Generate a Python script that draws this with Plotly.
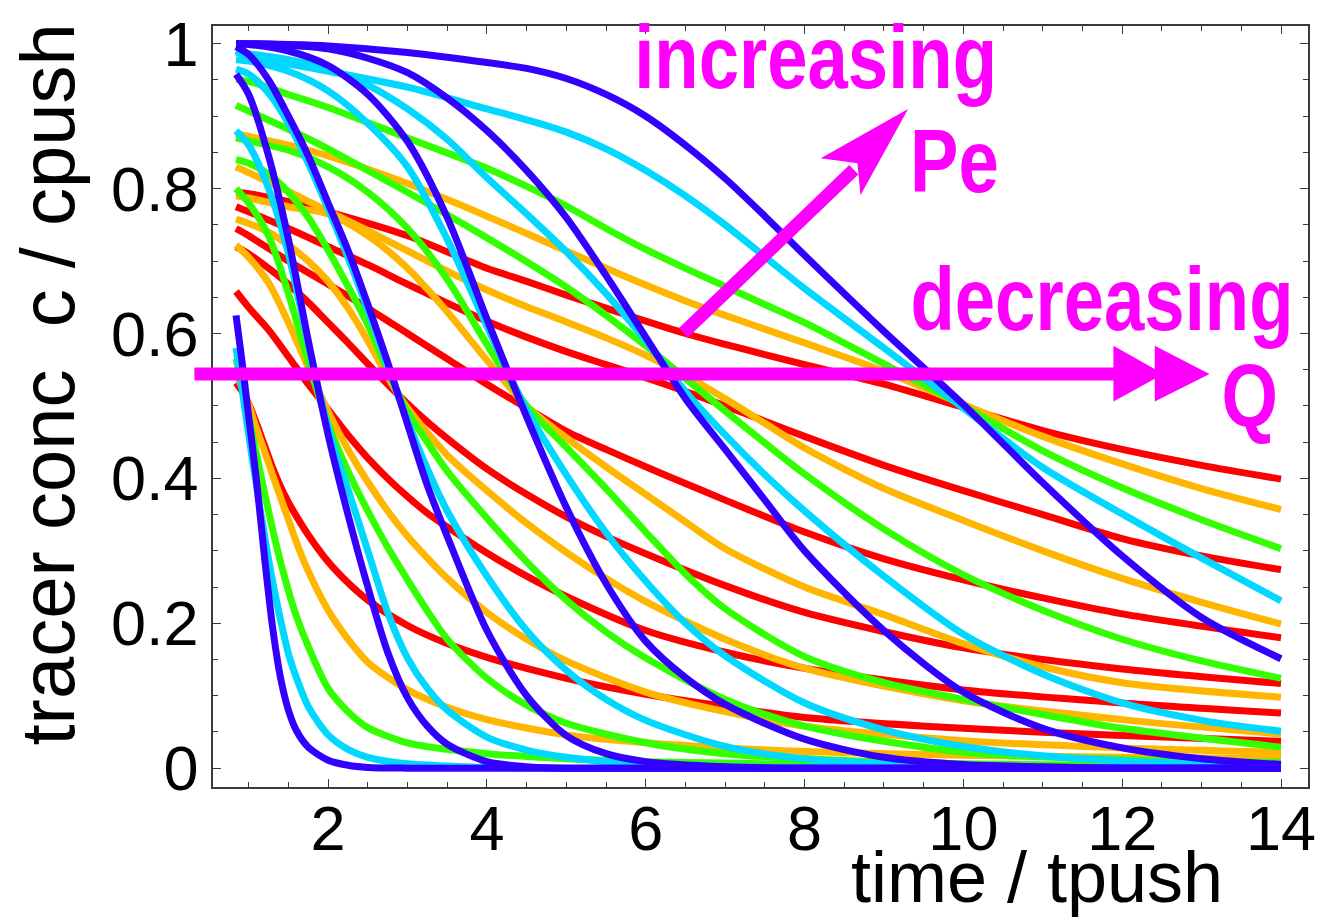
import plotly.graph_objects as go

# ---------------- data ----------------
# time grids per group (group 1 = largest Q ... group 6 = smallest Q)
G1_T = [0.84, 0.9, 1.0, 1.1, 1.2, 1.3, 1.4, 1.5, 1.6, 1.75, 2.0, 2.25, 2.5, 3.0, 3.5, 4.0, 5.0, 6.0, 7.0, 8.0, 10.0, 12.0, 14.0]
G2_T = [0.84, 1.0, 1.25, 1.5, 1.75, 2.0, 2.25, 2.5, 2.75, 3.0, 3.25, 3.5, 4.0, 4.5, 5.0, 6.0, 7.0, 8.0, 10.0, 12.0, 14.0]
G3_T = [0.84, 1.0, 1.25, 1.5, 1.75, 2.0, 2.25, 2.5, 2.75, 3.0, 3.25, 3.5, 4.0, 4.5, 5.0, 5.5, 6.0, 7.0, 8.0, 10.0, 12.0, 14.0]
G4_T = [0.84, 1.0, 1.5, 2.0, 2.5, 3.0, 3.5, 4.0, 4.5, 5.0, 5.5, 6.0, 6.5, 7.0, 8.0, 9.0, 10.0, 11.0, 12.0, 14.0]
G5_T = [0.84, 1.0, 1.5, 2.0, 2.5, 3.0, 3.5, 4.0, 4.5, 5.0, 5.5, 6.0, 6.5, 7.0, 7.5, 8.0, 9.0, 10.0, 11.0, 12.0, 13.0, 14.0]
G6_T = [0.84, 1.0, 1.5, 2.0, 3.0, 4.0, 4.5, 5.0, 5.5, 6.0, 6.5, 7.0, 7.5, 8.0, 9.0, 10.0, 11.0, 12.0, 13.0, 14.0]

G1_BLUE   = [0.625, 0.575, 0.485, 0.395, 0.29, 0.195, 0.125, 0.08, 0.052, 0.029, 0.011, 0.004, 0.001, 0.0, 0.0, 0.0, 0.0, 0.0, 0.0, 0.0, 0.0, 0.0, 0.0]
G1_CYAN   = [0.58, 0.535, 0.46, 0.388, 0.32, 0.258, 0.205, 0.158, 0.125, 0.085, 0.046, 0.026, 0.015, 0.006, 0.003, 0.001, 0.0, 0.0, 0.0, 0.0, 0.0, 0.0, 0.0]
G1_GREEN  = [0.565, 0.535, 0.485, 0.432, 0.38, 0.33, 0.285, 0.245, 0.21, 0.168, 0.11, 0.078, 0.056, 0.035, 0.026, 0.02, 0.013, 0.009, 0.007, 0.005, 0.003, 0.002, 0.001]
G1_ORANGE = [0.545, 0.53, 0.502, 0.468, 0.437, 0.405, 0.374, 0.343, 0.312, 0.272, 0.218, 0.178, 0.146, 0.108, 0.084, 0.067, 0.046, 0.035, 0.028, 0.023, 0.018, 0.015, 0.013]
G1_RED    = [0.532, 0.523, 0.503, 0.475, 0.445, 0.415, 0.389, 0.367, 0.348, 0.322, 0.285, 0.256, 0.232, 0.197, 0.172, 0.153, 0.124, 0.102, 0.085, 0.07, 0.055, 0.045, 0.037]

G2_BLUE   = [0.958, 0.93, 0.845, 0.73, 0.59, 0.46, 0.35, 0.25, 0.16, 0.097, 0.058, 0.033, 0.009, 0.002, 0.0, 0.0, 0.0, 0.0, 0.0, 0.0, 0.0]
G2_CYAN   = [0.88, 0.86, 0.80, 0.71, 0.585, 0.47, 0.385, 0.30, 0.215, 0.152, 0.11, 0.08, 0.043, 0.025, 0.015, 0.005, 0.002, 0.001, 0.0, 0.0, 0.0]
G2_GREEN  = [0.80, 0.78, 0.735, 0.655, 0.56, 0.475, 0.41, 0.355, 0.305, 0.26, 0.217, 0.178, 0.124, 0.087, 0.062, 0.035, 0.02, 0.013, 0.006, 0.004, 0.003]
G2_ORANGE = [0.722, 0.705, 0.67, 0.615, 0.553, 0.492, 0.44, 0.395, 0.355, 0.32, 0.29, 0.262, 0.215, 0.178, 0.148, 0.105, 0.078, 0.058, 0.038, 0.028, 0.022]
G2_RED    = [0.658, 0.636, 0.605, 0.568, 0.53, 0.495, 0.46, 0.428, 0.4, 0.375, 0.352, 0.333, 0.297, 0.265, 0.237, 0.19, 0.16, 0.138, 0.108, 0.09, 0.076]

G3_BLUE   = [0.996, 0.985, 0.95, 0.9, 0.845, 0.78, 0.715, 0.64, 0.56, 0.475, 0.39, 0.32, 0.19, 0.1, 0.045, 0.02, 0.009, 0.002, 0.0, 0.0, 0.0, 0.0]
G3_CYAN   = [0.965, 0.958, 0.932, 0.89, 0.835, 0.772, 0.705, 0.632, 0.555, 0.48, 0.413, 0.355, 0.265, 0.19, 0.135, 0.095, 0.066, 0.03, 0.013, 0.002, 0.0, 0.0]
G3_GREEN  = [0.84, 0.835, 0.82, 0.795, 0.76, 0.715, 0.665, 0.612, 0.548, 0.492, 0.45, 0.41, 0.345, 0.285, 0.232, 0.188, 0.152, 0.095, 0.058, 0.022, 0.012, 0.008]
G3_ORANGE = [0.758, 0.752, 0.74, 0.722, 0.70, 0.672, 0.635, 0.59, 0.54, 0.497, 0.463, 0.432, 0.383, 0.338, 0.298, 0.262, 0.23, 0.178, 0.138, 0.093, 0.067, 0.047]
G3_RED    = [0.72, 0.71, 0.69, 0.668, 0.643, 0.615, 0.587, 0.558, 0.53, 0.503, 0.478, 0.455, 0.413, 0.378, 0.347, 0.32, 0.296, 0.252, 0.215, 0.166, 0.137, 0.117]

G4_BLUE   = [1.0, 0.999, 0.99, 0.97, 0.93, 0.865, 0.76, 0.62, 0.485, 0.36, 0.255, 0.175, 0.125, 0.088, 0.04, 0.015, 0.005, 0.002, 0.0, 0.0]
G4_CYAN   = [0.978, 0.976, 0.962, 0.935, 0.89, 0.83, 0.73, 0.61, 0.495, 0.405, 0.325, 0.258, 0.2, 0.155, 0.09, 0.053, 0.03, 0.017, 0.01, 0.003]
G4_GREEN  = [0.87, 0.866, 0.853, 0.83, 0.795, 0.745, 0.675, 0.585, 0.5, 0.443, 0.386, 0.326, 0.268, 0.22, 0.154, 0.118, 0.095, 0.074, 0.055, 0.029]
G4_ORANGE = [0.79, 0.787, 0.775, 0.765, 0.735, 0.69, 0.63, 0.563, 0.5, 0.456, 0.416, 0.378, 0.34, 0.303, 0.25, 0.212, 0.172, 0.14, 0.118, 0.098]
G4_RED    = [0.745, 0.735, 0.70, 0.668, 0.635, 0.60, 0.565, 0.53, 0.497, 0.465, 0.44, 0.416, 0.393, 0.37, 0.326, 0.289, 0.26, 0.235, 0.213, 0.18]

G5_BLUE   = [1.0, 1.0, 0.998, 0.993, 0.98, 0.96, 0.925, 0.88, 0.825, 0.76, 0.68, 0.595, 0.51, 0.44, 0.37, 0.3, 0.19, 0.105, 0.055, 0.028, 0.013, 0.005]
G5_CYAN   = [0.988, 0.986, 0.978, 0.965, 0.943, 0.91, 0.868, 0.815, 0.765, 0.713, 0.655, 0.59, 0.52, 0.46, 0.405, 0.355, 0.265, 0.185, 0.13, 0.09, 0.066, 0.051]
G5_GREEN  = [0.915, 0.907, 0.882, 0.855, 0.825, 0.795, 0.764, 0.732, 0.699, 0.664, 0.625, 0.583, 0.538, 0.493, 0.449, 0.406, 0.33, 0.267, 0.218, 0.178, 0.148, 0.124]
G5_ORANGE = [0.83, 0.822, 0.796, 0.769, 0.742, 0.714, 0.686, 0.66, 0.637, 0.616, 0.594, 0.57, 0.542, 0.51, 0.476, 0.442, 0.386, 0.342, 0.30, 0.262, 0.229, 0.199]
G5_RED    = [0.775, 0.768, 0.745, 0.72, 0.695, 0.668, 0.642, 0.617, 0.595, 0.575, 0.557, 0.539, 0.52, 0.50, 0.479, 0.458, 0.418, 0.383, 0.35, 0.317, 0.293, 0.274]

G6_BLUE   = [1.0, 1.0, 0.999, 0.997, 0.988, 0.974, 0.966, 0.952, 0.93, 0.9, 0.86, 0.814, 0.762, 0.708, 0.603, 0.502, 0.394, 0.293, 0.208, 0.151]
G6_CYAN   = [0.99, 0.982, 0.972, 0.962, 0.94, 0.91, 0.895, 0.878, 0.855, 0.825, 0.79, 0.75, 0.706, 0.662, 0.58, 0.497, 0.415, 0.351, 0.29, 0.231]
G6_GREEN  = [0.951, 0.948, 0.93, 0.912, 0.87, 0.828, 0.803, 0.776, 0.745, 0.716, 0.69, 0.665, 0.64, 0.615, 0.558, 0.5, 0.438, 0.387, 0.343, 0.303]
G6_ORANGE = [0.876, 0.872, 0.86, 0.845, 0.807, 0.762, 0.738, 0.714, 0.69, 0.667, 0.645, 0.625, 0.606, 0.587, 0.548, 0.502, 0.458, 0.42, 0.386, 0.357]
G6_RED    = [0.795, 0.793, 0.782, 0.768, 0.735, 0.69, 0.672, 0.653, 0.635, 0.617, 0.6, 0.585, 0.571, 0.557, 0.53, 0.498, 0.466, 0.44, 0.418, 0.399]

X_TICKS = [2, 4, 6, 8, 10, 12, 14]
Y_TICKS = [0, 0.2, 0.4, 0.6, 0.8, 1.0]
Y_TICKTEXT = ["0", "0.2", "0.4", "0.6", "0.8", "1"]

COLORS = {"blue": "#3300FF", "cyan": "#00D8FF", "green": "#33FF00",
          "orange": "#FFB600", "red": "#FF0000"}
MAGENTA = "#FF00FF"

GROUPS = [
    (G1_T, {"blue": G1_BLUE, "cyan": G1_CYAN, "green": G1_GREEN, "orange": G1_ORANGE, "red": G1_RED}),
    (G2_T, {"blue": G2_BLUE, "cyan": G2_CYAN, "green": G2_GREEN, "orange": G2_ORANGE, "red": G2_RED}),
    (G3_T, {"blue": G3_BLUE, "cyan": G3_CYAN, "green": G3_GREEN, "orange": G3_ORANGE, "red": G3_RED}),
    (G4_T, {"blue": G4_BLUE, "cyan": G4_CYAN, "green": G4_GREEN, "orange": G4_ORANGE, "red": G4_RED}),
    (G5_T, {"blue": G5_BLUE, "cyan": G5_CYAN, "green": G5_GREEN, "orange": G5_ORANGE, "red": G5_RED}),
    (G6_T, {"blue": G6_BLUE, "cyan": G6_CYAN, "green": G6_GREEN, "orange": G6_ORANGE, "red": G6_RED}),
]
DRAW_ORDER = ["red", "orange", "green", "cyan", "blue"]

# ---------------- figure ----------------
XR = [0.55, 14.34]
YR = [-0.026, 1.0245]
L, R, T, B = 213, 9, 16, 136
W, H = 1325, 923
PW, PH = W - L - R, H - T - B

fig = go.Figure()
for cname in DRAW_ORDER:
    for t, series in GROUPS:
        fig.add_trace(go.Scatter(
            x=t, y=series[cname], mode="lines",
            line=dict(color=COLORS[cname], width=7, shape="spline", smoothing=0.8),
            showlegend=False, hoverinfo="skip"))

def px(x):  # data x -> paper
    return (x - XR[0]) / (XR[1] - XR[0])

def py(y):  # data y -> paper
    return (y - YR[0]) / (YR[1] - YR[0])

def ppx(p):  # pixel x -> paper
    return (p - L) / PW

def ppy(p):  # pixel y -> paper
    return (H - B - p) / PH

shapes = []
# horizontal "decreasing Q" arrow (double head)
shapes.append(dict(type="line", xref="paper", yref="paper",
                   x0=px(0.316), x1=px(12.2), y0=py(0.544), y1=py(0.544),
                   line=dict(color=MAGENTA, width=13), layer="above"))
for bx, tx in [(11.89, 12.52), (12.41, 13.10)]:
    shapes.append(dict(type="path", xref="paper", yref="paper",
                       path=f"M {px(bx)},{py(0.583)} L {px(tx)},{py(0.544)} L {px(bx)},{py(0.506)} Z",
                       fillcolor=MAGENTA, line=dict(width=0), layer="above"))
# diagonal "increasing Pe" arrow
shapes.append(dict(type="line", xref="paper", yref="paper",
                   x0=px(6.475), y0=py(0.601), x1=px(8.62), y1=py(0.826),
                   line=dict(color=MAGENTA, width=13), layer="above"))
shapes.append(dict(type="path", xref="paper", yref="paper",
                   path=(f"M {px(9.304)},{py(0.910)} L {px(8.204)},{py(0.842)} "
                         f"L {px(8.666)},{py(0.835)} L {px(8.704)},{py(0.791)} Z"),
                   fillcolor=MAGENTA, line=dict(width=0), layer="above"))

TXT_FONT = "Liberation Sans, Arial"
MAG_SIZE = 89
annotations = [
    dict(text="<b>increasing</b>", x=px(8.141), y=py(0.910), xref="paper", yref="paper",
         xanchor="center", yanchor="bottom", showarrow=False,
         font=dict(family=TXT_FONT, size=MAG_SIZE, color=MAGENTA)),
    dict(text="<b>Pe</b>", x=px(9.891), y=py(0.767), xref="paper", yref="paper",
         xanchor="center", yanchor="bottom", showarrow=False,
         font=dict(family=TXT_FONT, size=MAG_SIZE, color=MAGENTA)),
    dict(text="<b>decreasing</b>", x=px(11.748), y=py(0.576), xref="paper", yref="paper",
         xanchor="center", yanchor="bottom", showarrow=False,
         font=dict(family=TXT_FONT, size=MAG_SIZE, color=MAGENTA)),
    dict(text="<b>Q</b>", x=px(13.597), y=py(0.444), xref="paper", yref="paper",
         xanchor="center", yanchor="bottom", showarrow=False,
         font=dict(family=TXT_FONT, size=MAG_SIZE, color=MAGENTA)),
    dict(text="time / tpush", x=ppx(1043), y=ppy(921), xref="paper", yref="paper",
         xanchor="center", yanchor="bottom", showarrow=False,
         font=dict(family=TXT_FONT, size=72, color="black")),
    dict(text="tracer conc  c / cpush", x=ppx(46), y=ppy(379),
         xref="paper", yref="paper", textangle=-90,
         xanchor="center", yanchor="middle", showarrow=False,
         font=dict(family=TXT_FONT, size=76, color="black")),
]

FRAME = "#3a3a3a"
axis_common = dict(showgrid=False, zeroline=False, showline=True, linecolor=FRAME,
                   linewidth=1.5, mirror="ticks", ticks="inside", tickcolor=FRAME,
                   tickwidth=1.3, ticklen=8, ticklabeloverflow="allow",
                   tickfont=dict(family="Liberation Sans, Arial", size=63, color="black"))

fig.update_layout(
    width=W, height=H,
    margin=dict(l=L, r=R, t=T, b=B, pad=0),
    paper_bgcolor="white", plot_bgcolor="white",
    xaxis=dict(range=XR, tickvals=X_TICKS, ticktext=[str(v) for v in X_TICKS],
               ticklabelstandoff=-14,
               minor=dict(dtick=0.5, tick0=0, ticks="inside", ticklen=5, tickcolor=FRAME, tickwidth=1.2),
               **axis_common),
    yaxis=dict(range=YR, tickvals=Y_TICKS, ticktext=Y_TICKTEXT,
               minor=dict(dtick=0.05, tick0=0, ticks="inside", ticklen=5, tickcolor=FRAME, tickwidth=1.2),
               **axis_common),
    shapes=shapes, annotations=annotations,
)

# the magenta labels of the reference use a condensed bold face: squeeze them horizontally
POST = """
(function(){
  var gd = document.getElementById('{plot_id}');
  function fix(){
    gd.querySelectorAll('g.annotation').forEach(function(g){
      var t = g.querySelector('text.annotation-text');
      if(!t) return;
      var s = t.textContent || '';
      if (s === 'increasing' || s === 'decreasing' || s === 'Pe' || s === 'Q'){
        t.style.transformBox = 'fill-box';
        t.style.transformOrigin = '50% 50%';
        t.style.transform = 'scaleX(0.815)';
      }
    });
  }
  fix();
  if (gd.on) { gd.on('plotly_afterplot', fix); }
})();
"""

fig.write_html("out.html", post_script=POST)
